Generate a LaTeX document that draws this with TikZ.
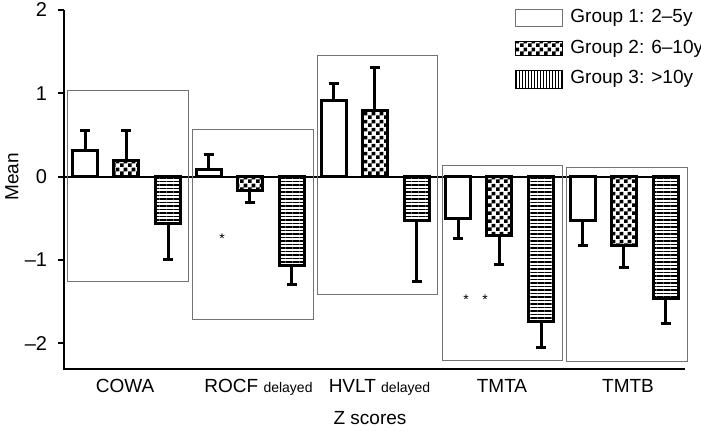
\documentclass[tikz,border=0pt]{standalone}
\usepackage{fontspec}
\setmainfont{Liberation Sans}
\usetikzlibrary{patterns,patterns.meta}
\pgfdeclarepatternformonly{fchk}{\pgfpointorigin}{\pgfqpoint{4pt}{4pt}}{\pgfqpoint{4pt}{4pt}}{
  \pgfpathrectangle{\pgfpointorigin}{\pgfqpoint{2pt}{2pt}}
  \pgfpathrectangle{\pgfqpoint{2pt}{2pt}}{\pgfqpoint{2pt}{2pt}}
  \pgfusepath{fill}}

\begin{document}
\begin{tikzpicture}[x=0.5pt,y=41.667pt,font=\fontsize{9.5}{11}\selectfont,
  bar/.style={draw,line width=1.5pt,fill=white},
  chk/.style={bar,pattern=fchk},
  hln/.style={bar,pattern={Lines[angle=0,distance=1.75pt,line width=0.55pt]}},
  vln/.style={draw,line width=0.4pt,pattern={Lines[angle=90,distance=1.5pt,line width=0.5pt]}},
  err/.style={line width=1.5pt},
  frame/.style={draw=black!55,line width=0.5pt},
  axis/.style={line width=1pt},
  lbl/.style={anchor=base,inner sep=0pt},
  star/.style={inner sep=0pt,font=\fontsize{7}{7}\selectfont}]
  \useasboundingbox (0,2.12) rectangle (701,-3.04);
  \draw[axis] (64,2) -- (64,-2.311) -- (685,-2.311);
  \draw[axis] (64,0) -- (680,0);
  \foreach \v/\t/\n in {2/2/a,1/1/b,0/0/c,-1/--1/d,-2/--2/e}
    \draw[axis] (64,\v) -- (58,\v) node (tick\n) [anchor=east,inner sep=0pt,xshift=-5pt,font=\fontsize{10}{12}\selectfont] {\t};
  \foreach \b/\va/\ea/\vb/\eb/\vc/\ec/\l/\r/\t/\u in {
      72.7/0.32/0.55/0.20/0.56/-0.56/-0.99/67.7/188.3/1.03/-1.26,
      196/0.09/0.27/-0.16/-0.31/-1.07/-1.29/192.7/313.3/0.57/-1.71,
      321/0.92/1.12/0.80/1.31/-0.52/-1.26/317.3/437.7/1.46/-1.41,
      445.5/-0.50/-0.74/-0.70/-1.05/-1.74/-2.05/442.3/562.3/0.14/-2.20,
      570/-0.52/-0.82/-0.83/-1.09/-1.46/-1.76/566.7/687.3/0.11/-2.22}{
    \draw[frame] (\l,\t) rectangle (\r,\u);
    \draw[bar] (\b,0) rectangle ++(25,\va);
    \draw[chk] (\b+41,0) rectangle ++(25,\vb);
    \draw[hln] (\b+83,0) rectangle ++(25,\vc);
    \draw[err] (\b+12.5,\va) -- (\b+12.5,\ea) ++(-5,0) -- ++(10,0);
    \draw[err] (\b+53.5,\vb) -- (\b+53.5,\eb) ++(-5,0) -- ++(10,0);
    \draw[err] (\b+95.5,\vc) -- (\b+95.5,\ec) ++(-5,0) -- ++(10,0);
  }
  \node (s1) [star] at (222,-0.748) {*};
  \node (s2) [star] at (466,-1.48) {*};
  \node (s3) [star] at (485,-1.48) {*};
  \node (cowa) [lbl] at (125,-2.586) {COWA};
  \node (rocf) [lbl] at (258.5,-2.586) {ROCF {\fontsize{7}{8}\selectfont delayed}};
  \node (hvlt) [lbl] at (379.5,-2.586) {HVLT {\fontsize{7}{8}\selectfont delayed}};
  \node (tmta) [lbl] at (502,-2.586) {TMTA};
  \node (tmtb) [lbl] at (628,-2.586) {TMTB};
  \node (xlab) [lbl] at (370,-2.968) {Z scores};
  \node (ylab) [rotate=90,inner sep=0pt] at (12,0) {Mean};
  \draw[frame] (515,2.009) rectangle (562,1.808);
  \draw[line width=0.4pt,pattern=fchk] (515,1.620) rectangle (562,1.460);
  \draw[vln] (515,1.272) rectangle (562,1.061);
  \node (g1) [anchor=base west,inner sep=0pt] at (570,1.848) {Group 1: 2--5y};
  \node (g2) [anchor=base west,inner sep=0pt] at (570,1.484) {Group 2: 6--10y};
  \node (g3) [anchor=base west,inner sep=0pt] at (570,1.120) {Group 3: >10y};
\end{tikzpicture}
\end{document}
